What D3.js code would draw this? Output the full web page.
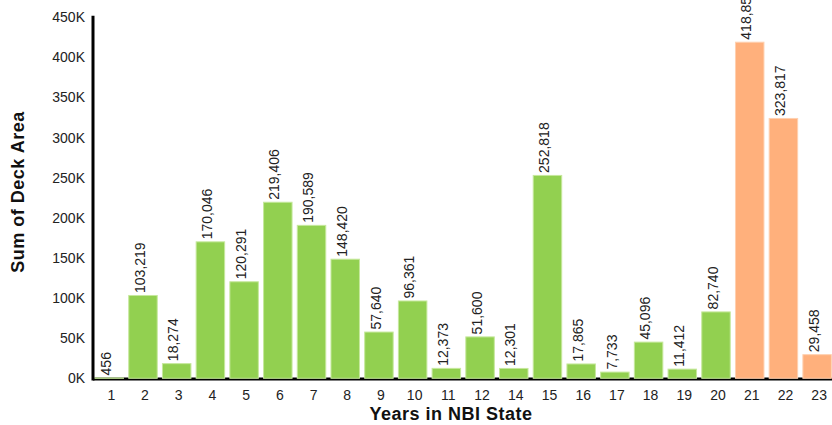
<!DOCTYPE html>
<html>
<head>
<meta charset="utf-8">
<script src="https://cdn.jsdelivr.net/npm/d3@7"></script>
<style>
  html, body { margin: 0; padding: 0; background: #fff; }
  svg { display: block; font-family: Arial, "Liberation Sans", sans-serif; }
</style>
</head>
<body>
<svg id="chart" width="832" height="425"></svg>
<script>
// Years in NBI state (no bridges at 13 years)
const years = ["1","2","3","4","5","6","7","8","9","10","11","12","14","15","16","17","18","19","20","21","22","23"];
// Sum of deck area per year bucket
const deckArea = [456, 103219, 18274, 170046, 120291, 219406, 190589, 148420, 57640, 96361, 12373, 51600, 12301, 252818, 17865, 7733, 45096, 11412, 82740, 418850, 323817, 29458];
// Buckets highlighted in orange
const highlighted = ["21", "22", "23"];
const yTicks = [0, 50000, 100000, 150000, 200000, 250000, 300000, 350000, 400000, 450000];

const svg = d3.select("#chart");

const x = d3.scaleBand()
  .domain(years)
  .range([92, 834.4])
  .paddingInner(0.155)
  .paddingOuter(0.09);

const y = d3.scaleLinear()
  .domain([0, 450000])
  .range([378.3, 17.2]);

const green = "#92d050", orange = "#ffb07c";

// y axis labels
const yAxis = d3.axisLeft(y)
  .tickValues(yTicks)
  .tickSize(0)
  .tickPadding(8)
  .tickFormat(d => (d / 1000) + "K");
const gy = svg.append("g").attr("transform", "translate(93,0)").call(yAxis);
gy.select(".domain").remove();
gy.selectAll("text").attr("font-size", 14).attr("fill", "#222").attr("font-family", "Arial, 'Liberation Sans', sans-serif");

// x axis labels
const xAxis = d3.axisBottom(x).tickSize(0).tickPadding(12);
const gx = svg.append("g").attr("transform", "translate(0,378.3)").call(xAxis);
gx.select(".domain").remove();
gx.selectAll("text").attr("font-size", 14).attr("fill", "#222").attr("dx", 2)
  .attr("font-family", "Arial, 'Liberation Sans', sans-serif");

// axis lines
svg.append("line")
  .attr("x1", 93).attr("x2", 832)
  .attr("y1", y(0) + 0.8).attr("y2", y(0) + 0.8)
  .attr("stroke", "#000").attr("stroke-width", 3);
svg.append("line")
  .attr("x1", 93).attr("x2", 93)
  .attr("y1", y(450000) - 1.5).attr("y2", y(0) + 2.3)
  .attr("stroke", "#000").attr("stroke-width", 3);

const data = years.map((yr, i) => ({ yr, v: deckArea[i] }));

// bars
svg.append("g").selectAll("rect")
  .data(data)
  .join("rect")
  .attr("x", d => x(d.yr))
  .attr("width", x.bandwidth())
  .attr("y", d => y(d.v))
  .attr("height", d => y(0) - y(d.v))
  .attr("fill", d => highlighted.includes(d.yr) ? orange : green)
  .attr("stroke", d => highlighted.includes(d.yr) ? "#ffd0b0" : "#c6e89c")
  .attr("stroke-width", 1);

// value labels, rotated
const fmt = d3.format(",");
svg.append("g").selectAll("text")
  .data(data)
  .join("text")
  .attr("transform", d => `translate(${x(d.yr) + x.bandwidth() / 2},${y(d.v) - 2.5}) rotate(-90)`)
  .attr("dy", "0.12em")
  .attr("font-size", 14)
  .attr("fill", "#222")
  .text(d => fmt(d.v));

// axis titles
svg.append("text")
  .attr("x", 451).attr("y", 420)
  .attr("text-anchor", "middle")
  .attr("font-size", 18)
  .attr("font-weight", "bold")
  .attr("letter-spacing", 0.5)
  .attr("fill", "#111")
  .text("Years in NBI State");

svg.append("text")
  .attr("transform", "translate(24,192) rotate(-90)")
  .attr("text-anchor", "middle")
  .attr("font-size", 18)
  .attr("font-weight", "bold")
  .attr("letter-spacing", 0.5)
  .attr("fill", "#111")
  .text("Sum of Deck Area");
</script>
</body>
</html>
